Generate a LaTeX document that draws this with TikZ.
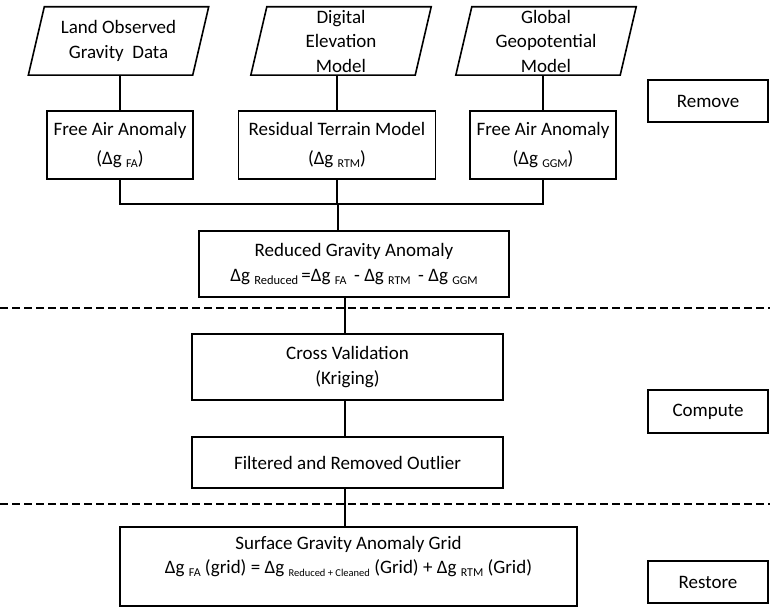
\documentclass[tikz,border=0pt]{standalone}
\usepackage{fontspec}
\setmainfont{Carlito}
\usetikzlibrary{calc}
\newcommand{\sbs}[2][12]{\ {\fontsize{#1}{#1}\selectfont\raisebox{-3pt}{#2}}}
\begin{document}
\begin{tikzpicture}[x=1pt,y=-1pt,
  font=\fontsize{19}{24.5}\selectfont,
  box/.style={draw, line width=1.6pt, align=center, inner sep=0pt},
  data/.style={align=center, inner sep=0pt, minimum width=164pt, minimum height=68pt},
  outline/.style={line width=1.6pt, line join=miter},
  link/.style={line width=1.4pt},
  sep/.style={line width=1.9pt, dash pattern=on 8pt off 4pt}]
\useasboundingbox (0,0) rectangle (770,607);

% input data (parallelograms)
\node[data] (d1) at (118.5,41) {Land Observed\\Gravity\ \ Data};
\node[data] (d2) at (341,41) {Digital\\Elevation\\Model};
\node[data] (d3) at (546,41) {Global\\Geopotential\\Model};
\foreach \n in {d1,d2,d3}{
  \draw[outline] ($(\n.north west)+(8,0)$) -- ($(\n.north east)+(8,0)$)
    -- ($(\n.south east)-(8,0)$) -- ($(\n.south west)-(8,0)$) -- cycle;
}

% anomaly boxes
\node[box, minimum width=146pt, minimum height=68pt] (fa) at (120,145)
  {Free Air Anomaly\\[5pt](Δg\sbs{FA})};
\node[box, minimum width=197pt, minimum height=68pt] (rtm) at (337,145)
  {Residual Terrain Model\\[5pt](Δg\sbs{RTM})};
\node[box, minimum width=146pt, minimum height=68pt] (ggm) at (543,145)
  {Free Air Anomaly\\[5pt](Δg\sbs{GGM})};

\node[box, minimum width=310pt, minimum height=66pt] (red) at (354,264)
  {Reduced Gravity Anomaly\\Δg\sbs[12.5]{Reduced}\,=Δg\sbs{FA}\, - Δg\sbs{RTM}\, - Δg\sbs{GGM}};
\node[box, minimum width=311pt, minimum height=66pt] (cv) at (347.5,367)
  {Cross Validation\\(Kriging)};
\node[box, minimum width=311pt, minimum height=51pt] (flt) at (347.5,462.5)
  {Filtered and Removed Outlier};
\node[box, minimum width=457pt, minimum height=79pt] (sfc) at (348.5,566.5)
  {Surface Gravity Anomaly Grid\\[-1pt]Δg\sbs{FA} (grid) = Δg\sbs[10.5]{Reduced + Cleaned} (Grid) + Δg\sbs{RTM} (Grid)\\[-1pt]\mbox{}};

% stage labels
\node[box, minimum width=120pt, minimum height=42pt] (rem) at (708,101) {Remove};
\node[box, minimum width=120pt, minimum height=43pt] (cmp) at (708,411.5) {Compute};
\node[box, minimum width=120pt, minimum height=42pt] (rst) at (708,582) {Restore};

% connectors
\coordinate (j) at (338,204);
\coordinate (spine) at (345,0);
\draw[link] (d1.south -| fa) -- (fa.north);
\draw[link] (d2.south -| rtm) -- (rtm.north);
\draw[link] (d3.south -| ggm) -- (ggm.north);
\draw[link] (fa.south) |- (j);
\draw[link] (ggm.south) |- (j);
\draw[link] (rtm.south) -- (rtm.south |- j);
\draw[link] (j) -- (red.north -| j);
\draw[link] (red.south -| spine) -- (cv.north -| spine);
\draw[link] (cv.south -| spine) -- (flt.north -| spine);
\draw[link] (flt.south -| spine) -- (sfc.north -| spine);

% stage separators
\coordinate (s1l) at (0,308);
\coordinate (s1r) at (770,308);
\coordinate (s2l) at (0,504);
\coordinate (s2r) at (770,504);
\draw[sep] (s1l) -- (s1r);
\draw[sep] (s2l) -- (s2r);
\end{tikzpicture}
\end{document}
